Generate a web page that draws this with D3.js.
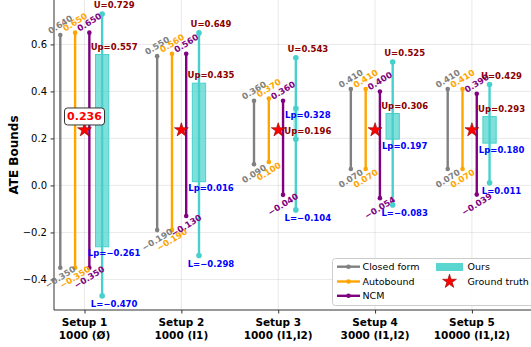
<!DOCTYPE html>
<html>
<head>
<meta charset="utf-8">
<script src="https://cdn.jsdelivr.net/npm/d3@7"></script>
<style>
  html, body { margin: 0; padding: 0; background: #fff; }
  svg { display: block; font-family: "DejaVu Sans", sans-serif; }
</style>
</head>
<body>
<svg id="chart" width="531" height="347"></svg>
<script>
// ---- Data ----
const setupNames = ["Setup 1", "Setup 2", "Setup 3", "Setup 4", "Setup 5"];
const setupSubs = ["1000 (Ø)", "1000 (I1)", "1000 (I1,I2)", "3000 (I1,I2)", "10000 (I1,I2)"];
const closedLow  = [-0.350, -0.190, 0.090, 0.070, 0.070];
const closedHigh = [0.640, 0.550, 0.360, 0.410, 0.410];
const autoLow    = [-0.350, -0.190, 0.100, 0.070, 0.070];
const autoHigh   = [0.650, 0.560, 0.370, 0.410, 0.410];
const ncmLow     = [-0.350, -0.130, -0.040, -0.054, -0.039];
const ncmHigh    = [0.650, 0.560, 0.360, 0.400, 0.390];
const oursL  = [-0.470, -0.298, -0.104, -0.083, 0.011];
const oursLp = [-0.261, 0.016, 0.328, 0.197, 0.180];
const oursUp = [0.557, 0.435, 0.196, 0.306, 0.293];
const oursU  = [0.729, 0.649, 0.543, 0.525, 0.429];
const groundTruth = [0.236, 0.236, 0.236, 0.236, 0.236];
const yTicks = [-0.4, -0.2, 0.0, 0.2, 0.4, 0.6];

// ---- Layout ----
const svg = d3.select("#chart");
const L = 54, R = 531, T = 0, B = 310;
const x = d3.scaleLinear().domain([-0.315, 4.61]).range([L, R]);
const y = d3.scaleLinear().domain([-0.53, 0.789]).range([B, T]);

const colGray = "#808080", colOrange = "#FFA500", colPurple = "#800080";
const colTeal = "#48D1CC", colDarkRed = "#8B0000", colBlue = "#0000FF";

// grid
const g = svg.append("g");
g.selectAll(".hg").data(yTicks).join("line")
  .attr("x1", L).attr("x2", R).attr("y1", d => y(d)).attr("y2", d => y(d))
  .attr("stroke", "#b0b0b0").attr("stroke-opacity", 0.35).attr("stroke-width", 0.8);
g.selectAll(".vg").data(d3.range(5)).join("line")
  .attr("y1", T).attr("y2", B).attr("x1", d => x(d)).attr("x2", d => x(d))
  .attr("stroke", "#b0b0b0").attr("stroke-opacity", 0.35).attr("stroke-width", 0.8);

// axes
const yAxis = d3.axisLeft(y).tickValues(yTicks).tickSize(3.5).tickPadding(3.5)
  .tickFormat(d => d3.format(".1f")(d).replace("-", "\u2212"));
const ya = svg.append("g").attr("transform", `translate(${L},0)`).call(yAxis);
ya.select(".domain").remove();
ya.selectAll("text").attr("font-size", 10).attr("fill", "#000").attr("font-family", "DejaVu Sans");
ya.selectAll("line").attr("stroke", "#333");

const xAxis = d3.axisBottom(x).tickValues(d3.range(5)).tickSize(3.5).tickFormat("");
const xa = svg.append("g").attr("transform", `translate(0,${B})`).call(xAxis);
xa.select(".domain").remove();
xa.selectAll("line").attr("stroke", "#333");

svg.append("line").attr("x1", L).attr("x2", L).attr("y1", T).attr("y2", B).attr("stroke", "#333").attr("stroke-width", 1);
svg.append("line").attr("x1", L).attr("x2", R).attr("y1", B).attr("y2", B).attr("stroke", "#333").attr("stroke-width", 1);

// x tick labels
setupNames.forEach((n, i) => {
  const t = svg.append("text").attr("x", x(i)).attr("text-anchor", "middle")
    .attr("font-size", 10.5).attr("font-weight", "bold").attr("fill", "#000");
  t.append("tspan").attr("x", x(i)).attr("y", 326).text(n);
  t.append("tspan").attr("x", x(i)).attr("y", 338.5).text(setupSubs[i]);
});

// y label
svg.append("text").attr("transform", "translate(18,155) rotate(-90)")
  .attr("text-anchor", "middle").attr("font-size", 12).attr("font-weight", "bold").text("ATE Bounds");

// ---- marks ----
const offClosed = -0.25, offAuto = -0.097, offNcm = 0.05, offOurs = 0.182;
const fmt = d3.format(".3f");
const marks = svg.append("g");
const labels = svg.append("g");

function rangeLine(lows, highs, off, color) {
  lows.forEach((lo, i) => {
    const xx = x(i + off);
    marks.append("line").attr("x1", xx).attr("x2", xx).attr("y1", y(lo)).attr("y2", y(highs[i]))
      .attr("stroke", color).attr("stroke-width", 2.4);
    [lo, highs[i]].forEach(v => marks.append("circle").attr("cx", xx).attr("cy", y(v)).attr("r", 2.3).attr("fill", color));
    labels.append("text").attr("transform", `translate(${xx},${y(highs[i]) - 10.5}) rotate(-32)`)
      .attr("text-anchor", "middle").attr("dominant-baseline", "central")
      .attr("font-size", 8.5).attr("font-weight", "bold").attr("fill", color).text(fmt(highs[i]));
    labels.append("text").attr("transform", `translate(${xx},${y(lo) + 9.5}) rotate(-32)`)
      .attr("text-anchor", "middle").attr("dominant-baseline", "central")
      .attr("font-size", 8.5).attr("font-weight", "bold").attr("fill", color).text(fmt(lo));
  });
}
rangeLine(closedLow, closedHigh, offClosed, colGray);
rangeLine(autoLow, autoHigh, offAuto, colOrange);
rangeLine(ncmLow, ncmHigh, offNcm, colPurple);

// ours
const boxW = 13.3;
oursL.forEach((lv, i) => {
  const xx = x(i + offOurs);
  marks.append("line").attr("x1", xx).attr("x2", xx).attr("y1", y(lv)).attr("y2", y(oursU[i]))
    .attr("stroke", colTeal).attr("stroke-width", 2.4);
  const lp = oursLp[i], up = oursUp[i];
  if (up > lp) {
    marks.append("rect").attr("x", xx - boxW / 2).attr("width", boxW)
      .attr("y", y(up)).attr("height", y(lp) - y(up))
      .attr("fill", colTeal).attr("fill-opacity", 0.7).attr("stroke", colTeal).attr("stroke-width", 1);
  } else {
    marks.append("rect").attr("x", xx - 3).attr("width", 6)
      .attr("y", y(lp)).attr("height", y(up) - y(lp))
      .attr("fill", colTeal).attr("fill-opacity", 0.25);
    [lp, up].forEach(v => marks.append("circle").attr("cx", xx).attr("cy", y(v)).attr("r", 2.8).attr("fill", colTeal));
  }
  [lv, oursU[i]].forEach(v => marks.append("circle").attr("cx", xx).attr("cy", y(v)).attr("r", 2.8).attr("fill", colTeal));
  const lx = xx + 12;
  const txt = (v, dy, c, s) => labels.append("text").attr("x", lx).attr("y", y(v) + dy)
    .attr("text-anchor", "middle").attr("dominant-baseline", "central")
    .attr("font-size", 8.5).attr("font-weight", "bold").attr("fill", c).text(s);
  txt(oursU[i], -9, colDarkRed, "U=" + fmt(oursU[i]));
  txt(up, -8, colDarkRed, "Up=" + fmt(up));
  txt(lp, 6.5, colBlue, "Lp=" + fmt(lp));
  txt(lv, 8.5, colBlue, "L=" + fmt(lv));
});

// ground truth stars
const star = d3.symbol().type(d3.symbolStar).size(60);
groundTruth.forEach((v, i) => {
  marks.append("path").attr("d", star()).attr("transform", `translate(${x(i)},${y(v)})`)
    .attr("fill", "#FF0000").attr("stroke", colDarkRed).attr("stroke-width", 0.6);
});
// GT annotation for setup 1
{
  const cx = x(0), cy = y(groundTruth[0]) - 13.5;
  labels.append("rect").attr("x", cx - 20).attr("y", cy - 8.5).attr("width", 40).attr("height", 17)
    .attr("rx", 3).attr("fill", "#fff").attr("stroke", "#333").attr("stroke-width", 1);
  labels.append("text").attr("x", cx).attr("y", cy).attr("text-anchor", "middle").attr("dominant-baseline", "central")
    .attr("font-size", 11).attr("font-weight", "bold").attr("fill", "#FF0000").text(fmt(groundTruth[0]));
}

// ---- legend ----
const lg = svg.append("g");
lg.append("rect").attr("x", 332.5).attr("y", 258.5).attr("width", 210).attr("height", 47).attr("rx", 3)
  .attr("fill", "#fff").attr("fill-opacity", 0.85).attr("stroke", "#ccc").attr("stroke-width", 1);
const legLines = [["Closed form", colGray], ["Autobound", colOrange], ["NCM", colPurple]];
const rowY = [266.7, 281.5, 295.8];
legLines.forEach(([name, c], k) => {
  lg.append("line").attr("x1", 337).attr("x2", 360).attr("y1", rowY[k]).attr("y2", rowY[k]).attr("stroke", c).attr("stroke-width", 2.4);
  lg.append("circle").attr("cx", 348.5).attr("cy", rowY[k]).attr("r", 2.3).attr("fill", c);
  lg.append("text").attr("x", 362.5).attr("y", rowY[k]).attr("dominant-baseline", "central").attr("font-size", 9.5).text(name);
});
lg.append("rect").attr("x", 436).attr("y", 263).attr("width", 27).attr("height", 8)
  .attr("fill", colTeal).attr("fill-opacity", 0.9);
lg.append("text").attr("x", 467.5).attr("y", rowY[0]).attr("dominant-baseline", "central").attr("font-size", 9.5).text("Ours");
lg.append("path").attr("d", star()).attr("transform", `translate(449.5,${rowY[1]})`)
  .attr("fill", "#FF0000").attr("stroke", colDarkRed).attr("stroke-width", 0.6);
lg.append("text").attr("x", 467.5).attr("y", rowY[1]).attr("dominant-baseline", "central").attr("font-size", 9.5).text("Ground truth");
</script>
</body>
</html>
